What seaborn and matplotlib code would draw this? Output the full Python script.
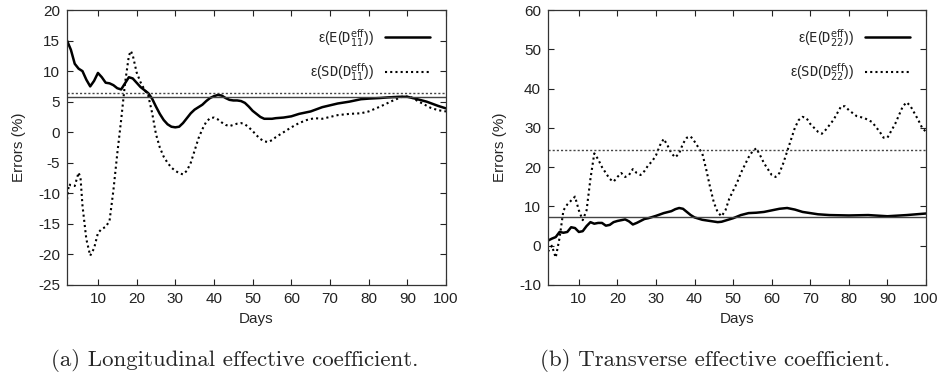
import numpy as np
import pandas as pd
import matplotlib
matplotlib.use("Agg")
import matplotlib.pyplot as plt
import seaborn as sns

sns.set_style("ticks")
plt.rcParams['font.family'] = ['Liberation Sans', 'DejaVu Sans']
plt.rcParams['mathtext.fontset'] = 'dejavusans'

# (a) longitudinal
days_a_e = [2, 3, 4, 5, 6, 7, 8, 9, 10, 11, 12, 13, 14, 15, 16, 17, 18, 19, 20, 21,
            22, 23, 24, 25, 26, 27, 28, 29, 30, 31, 32, 33, 34, 35, 36, 37, 38, 39, 40,
            41, 42, 43, 44, 45, 46, 47, 48, 49, 50, 51, 52, 53, 54, 55, 56, 58, 60, 62,
            65, 68, 70, 72, 75, 78, 80, 83, 85, 88, 90, 92, 95, 98, 100]
err_a_e = [15.0, 13.5, 11.2, 10.4, 10.0, 8.6, 7.5, 8.4, 9.7, 9.0, 8.1, 8.0, 7.7, 7.2,
           7.0, 8.0, 9.0, 8.8, 8.1, 7.4, 6.9, 6.4, 5.5, 4.2, 3.0, 2.0, 1.3, 0.9, 0.8,
           0.9, 1.5, 2.3, 3.1, 3.7, 4.1, 4.5, 5.1, 5.6, 5.9, 6.1, 6.0, 5.6, 5.3, 5.2,
           5.2, 5.1, 4.8, 4.2, 3.5, 3.0, 2.5, 2.2, 2.2, 2.2, 2.3, 2.4, 2.6, 3.0, 3.4,
           4.1, 4.4, 4.7, 5.0, 5.4, 5.5, 5.6, 5.7, 5.8, 5.8, 5.5, 5.0, 4.3, 3.9]
days_a_sd = [2, 2.5, 3, 4, 5, 5.5, 6, 7, 8, 9, 10, 11, 12, 13, 14, 15, 16, 17, 18, 18.5,
             19, 20, 21, 22, 23, 24, 25, 26, 27, 28, 29, 30, 31, 32, 33, 34, 35, 36, 37,
             38, 39, 40, 41, 42, 43, 44, 45, 46, 47, 48, 49, 50, 51, 52, 53, 54, 55, 56,
             58, 60, 62, 64, 66, 68, 70, 72, 75, 78, 80, 83, 86, 89, 91, 93, 96, 98, 100]
err_a_sd = [-11.0, -8.5, -8.7, -8.8, -6.6, -7.5, -12.0, -17.5, -20.2, -19.0, -16.5,
            -15.8, -15.5, -14.5, -9.5, -3.5, 2.0, 8.0, 12.5, 13.3, 12.6, 9.8, 8.2, 7.0,
            6.0, 3.2, -0.3, -2.5, -4.0, -5.0, -5.8, -6.3, -6.7, -6.9, -6.3, -5.0, -3.0,
            -1.0, 0.5, 1.7, 2.3, 2.4, 2.1, 1.6, 1.2, 1.0, 1.2, 1.4, 1.5, 1.3, 0.8, 0.2,
            -0.5, -1.1, -1.5, -1.6, -1.3, -0.8, 0.0, 0.8, 1.5, 2.0, 2.3, 2.2, 2.5, 2.8,
            3.0, 3.1, 3.4, 4.2, 5.1, 5.9, 5.7, 5.0, 4.0, 3.6, 3.4]
mean_a_e = 5.7
mean_a_sd = 6.45

# (b) transverse
days_b_e = [2, 3, 4, 5, 6, 7, 8, 9, 10, 11, 12, 13, 14, 15, 16, 17, 18, 19, 20, 21, 22,
            23, 24, 25, 26, 27, 28, 30, 32, 34, 35, 36, 37, 38, 39, 40, 42, 44, 46, 47,
            48, 50, 52, 54, 56, 58, 60, 62, 64, 66, 68, 70, 72, 75, 80, 85, 90, 95, 100]
err_b_e = [1.3, 1.8, 2.2, 3.5, 3.3, 3.5, 4.7, 4.5, 3.5, 3.7, 5.0, 6.0, 5.6, 5.8, 5.8,
           5.1, 5.3, 6.0, 6.3, 6.5, 6.7, 6.2, 5.4, 5.8, 6.3, 6.8, 7.0, 7.6, 8.3, 8.8,
           9.3, 9.6, 9.4, 8.6, 7.8, 7.2, 6.6, 6.3, 6.0, 6.1, 6.4, 7.0, 7.8, 8.3, 8.4,
           8.6, 9.0, 9.4, 9.6, 9.2, 8.6, 8.3, 8.0, 7.8, 7.7, 7.8, 7.5, 7.8, 8.2]
days_b_sd = [2, 3, 4, 5, 6, 7, 8, 9, 10, 11, 12, 13, 14, 15, 16, 17, 18, 19, 20, 21, 22,
             23, 24, 25, 26, 27, 28, 29, 30, 31, 32, 33, 34, 35, 36, 37, 38, 39, 40, 41,
             42, 43, 44, 45, 46, 47, 48, 49, 50, 51, 52, 53, 54, 55, 56, 57, 58, 59, 60,
             61, 62, 63, 64, 65, 66, 67, 68, 69, 70, 72, 73, 74, 76, 78, 79, 80, 82, 84,
             86, 88, 89, 90, 92, 94, 95, 96, 98, 99, 100]
err_b_sd = [-1.5, 0.0, -3.0, 2.0, 9.0, 10.5, 11.5, 12.5, 9.0, 6.5, 9.0, 17.0, 23.5,
            22.0, 20.0, 18.5, 17.0, 16.3, 17.5, 18.5, 17.5, 18.0, 19.5, 18.5, 18.0, 19.0,
            20.5, 21.5, 23.0, 25.5, 27.2, 25.5, 23.5, 22.5, 23.5, 26.0, 27.5, 27.8, 26.5,
            25.0, 23.5, 19.5, 15.0, 11.0, 8.5, 7.5, 9.0, 12.0, 14.0, 16.0, 18.5, 20.5,
            22.5, 24.0, 24.8, 23.0, 21.0, 19.5, 18.0, 17.5, 18.5, 21.0, 24.0, 27.0, 30.0,
            32.0, 32.8, 32.5, 31.0, 29.0, 28.5, 29.5, 32.0, 35.5, 35.5, 34.5, 33.0, 32.5,
            31.5, 29.0, 27.5, 27.5, 31.0, 35.5, 36.5, 35.5, 32.0, 30.0, 29.0]
mean_b_e = 7.3
mean_b_sd = 24.3

lab_a = [r'ε($\mathtt{E}$($\mathtt{D}_{11}^{\mathsf{eff}}$))',
         r'ε($\mathtt{SD}$($\mathtt{D}_{11}^{\mathsf{eff}}$))']
lab_b = [r'ε($\mathtt{E}$($\mathtt{D}_{22}^{\mathsf{eff}}$))',
         r'ε($\mathtt{SD}$($\mathtt{D}_{22}^{\mathsf{eff}}$))']

fig = plt.figure(figsize=(9.41, 3.76), dpi=100)
ax1 = fig.add_axes([67 / 941, 91 / 376, 379 / 941, 275 / 376])
ax2 = fig.add_axes([548 / 941, 91 / 376, 378 / 941, 275 / 376])


def panel(ax, de, ve, dsd, vsd, me, msd, labels, ylim, yticks, caption, cx):
    df_e = pd.DataFrame({'Days': de, 'Err': ve})
    df_sd = pd.DataFrame({'Days': dsd, 'Err': vsd})
    sns.lineplot(data=df_e, x='Days', y='Err', ax=ax, color='black', lw=1.8,
                 label=labels[0])
    sns.lineplot(data=df_sd, x='Days', y='Err', ax=ax, color='black', lw=1.5,
                 linestyle=(0, (1, 1.5)), label=labels[1])
    ax.axhline(me, color='#444444', lw=1.0)
    ax.axhline(msd, color='#444444', lw=1.0, linestyle=(0, (1.5, 1.5)))
    ax.set_xlim(2, 100)
    ax.set_ylim(*ylim)
    ax.set_xticks(range(10, 101, 10))
    ax.set_yticks(yticks)
    ax.set_yticklabels([str(t) for t in yticks])
    ax.tick_params(direction='in', top=True, right=True, length=4, width=0.8,
                   labelsize=11, colors='#222222', pad=5)
    for s in ax.spines.values():
        s.set_color('#333333')
        s.set_linewidth(0.9)
    ax.set_xlabel('Days', fontsize=11, labelpad=4)
    ax.set_ylabel('Errors (%)', fontsize=11, labelpad=9)
    leg = ax.legend(loc='upper right', frameon=False, markerfirst=False,
                    handlelength=3.2, fontsize=10, labelspacing=0.9,
                    bbox_to_anchor=(0.99, 0.985), handletextpad=0.8)
    for t in leg.get_texts():
        t.set_ha('right')
    fig.text(cx, 0.04, caption, ha='center', va='center', fontsize=16.5,
             family=['cmr10', 'DejaVu Serif'])


panel(ax1, days_a_e, err_a_e, days_a_sd, err_a_sd, mean_a_e, mean_a_sd, lab_a,
      (-25, 20), list(range(-25, 21, 5)),
      '(a) Longitudinal effective coefficient.', 235 / 941)
panel(ax2, days_b_e, err_b_e, days_b_sd, err_b_sd, mean_b_e, mean_b_sd, lab_b,
      (-10, 60), list(range(-10, 61, 10)),
      '(b) Transverse effective coefficient.', 715 / 941)

fig.savefig('out.png', dpi=100)
